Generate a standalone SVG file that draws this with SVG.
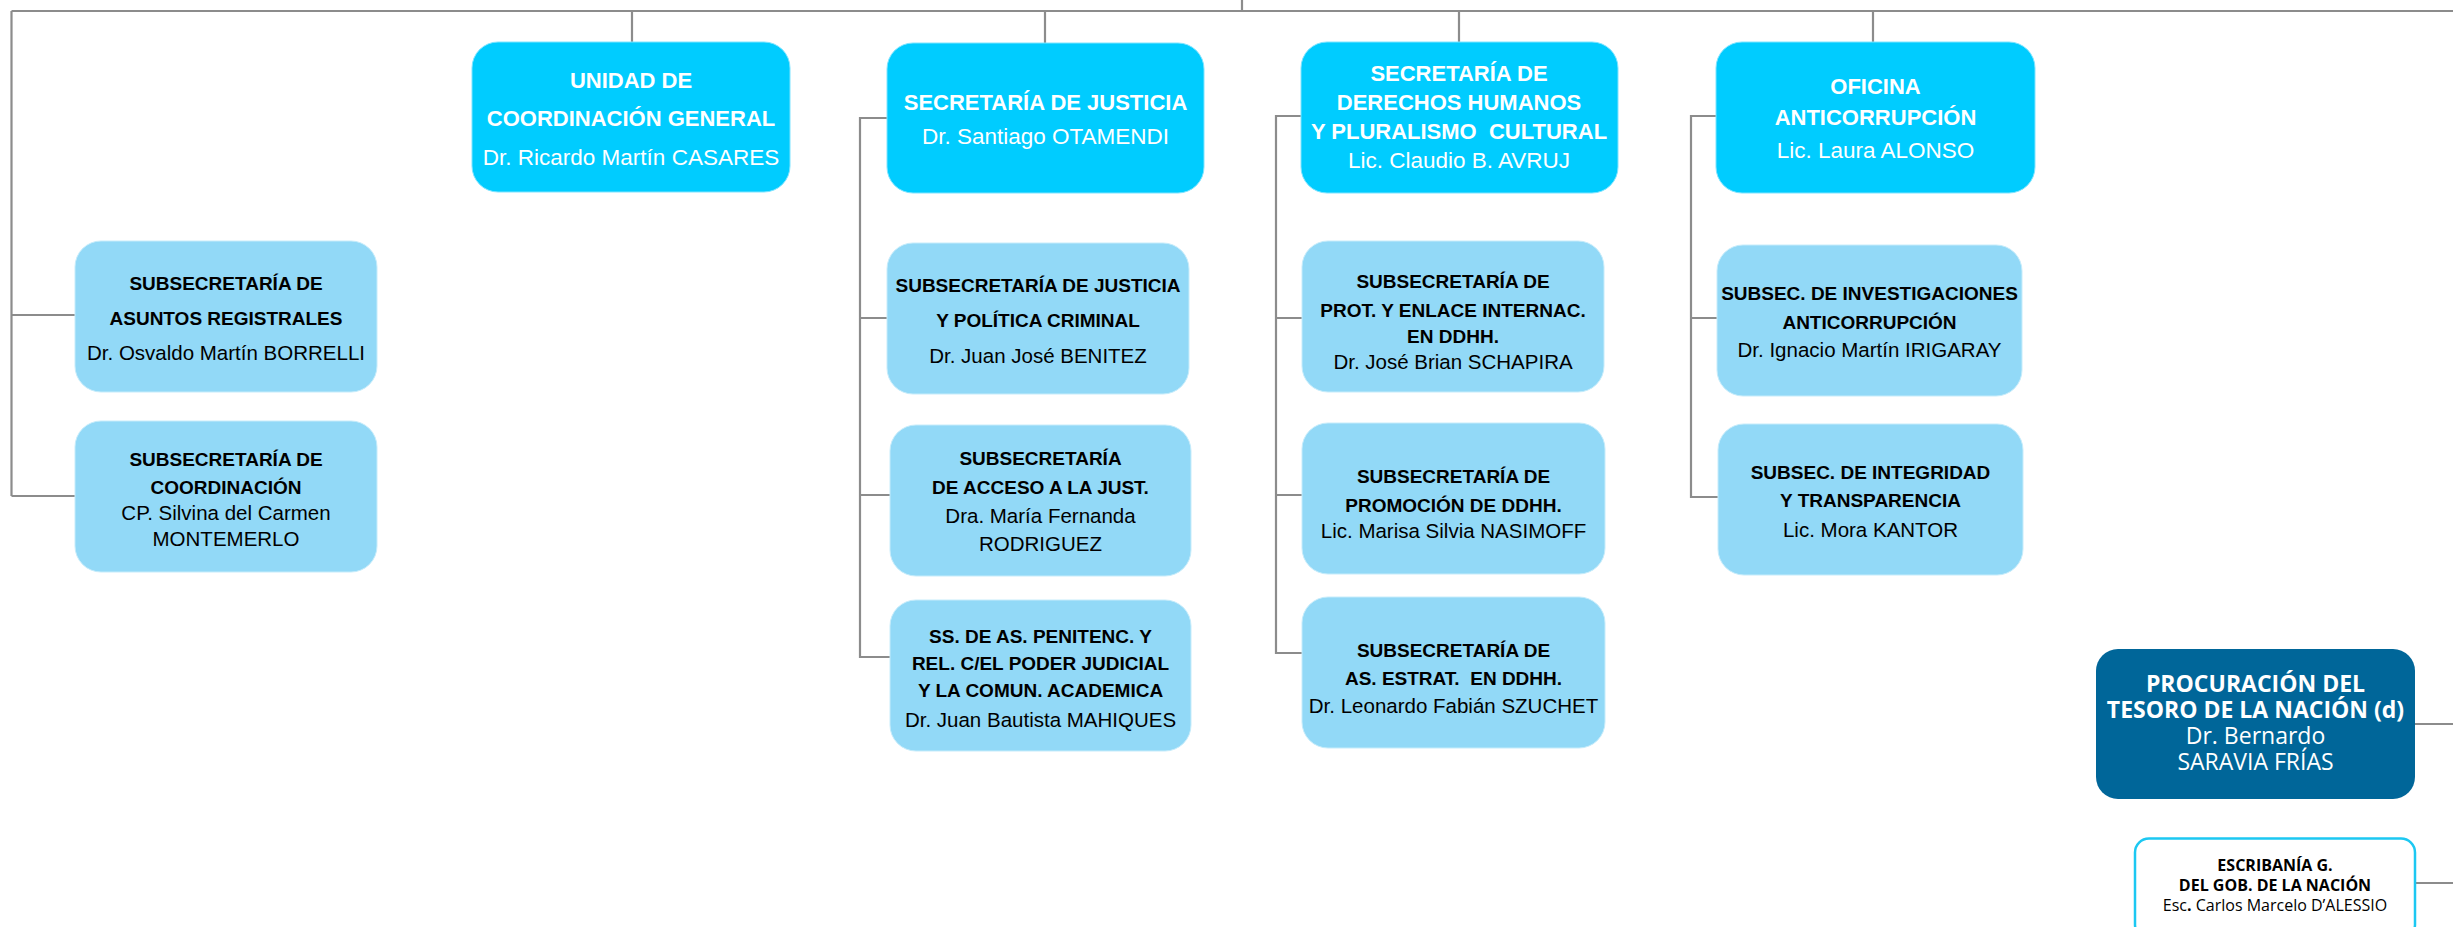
<svg xmlns="http://www.w3.org/2000/svg" width="2453" height="927" viewBox="0 0 2453 927">
<style>
.ln{stroke:#8c8c8c;stroke-width:2.2;fill:none}
.b1{fill:#00CCFF;stroke:#7fe4ff;stroke-width:1}
.b2{fill:#92D9F7;stroke:#c6ecfb;stroke-width:1}
.b3{fill:#006699}
.b4{fill:#ffffff;stroke:#1CC8F2;stroke-width:2.5}
text{font-family:"Liberation Sans",Arial,sans-serif;text-anchor:middle}
.wb{fill:#ffffff;font-weight:bold;font-size:22px}
.wr{fill:#ffffff;font-size:22.5px}
.kb{fill:#000000;font-weight:bold;font-size:19px}
.kr{fill:#000000;font-size:20.5px}
.ob{font-family:"Open Sans","Liberation Sans",sans-serif;fill:#ffffff;font-weight:bold;font-size:23px}
.or{font-family:"Open Sans","Liberation Sans",sans-serif;fill:#ffffff;font-size:23px}
.eb{font-family:"Open Sans","Liberation Sans",sans-serif;fill:#000000;font-weight:bold;font-size:16px}
.er{font-family:"Open Sans","Liberation Sans",sans-serif;fill:#000000;font-size:16px}
</style>
<rect width="2453" height="927" fill="#ffffff"/>
<g id="connectors">
<path class="ln" d="M1242 0V11M11.5 11H2453M632 11V42M1045 11V43M1459 11V42M1873 11V42"/>
<path class="ln" d="M11.5 11V496M11.5 315H75M11.5 496H75"/>
<path class="ln" d="M887 118H860V657H890M860 318H887M860 495H890"/>
<path class="ln" d="M1301 116H1276V653H1302M1276 318H1302M1276 495H1302"/>
<path class="ln" d="M1716 116H1691V497H1718M1691 318H1717"/>
<path class="ln" d="M2415 724H2453M2415 883H2453"/>
</g>
<g id="unidad">
<rect class="b1" x="472" y="42" width="318" height="150" rx="26"/>
<text class="wb" x="631" y="88">UNIDAD DE</text>
<text class="wb" x="631" y="126">COORDINACIÓN GENERAL</text>
<text class="wr" x="631" y="165">Dr. Ricardo Martín CASARES</text>
</g>
<g id="sec-justicia">
<rect class="b1" x="887" y="43" width="317" height="150" rx="26"/>
<text class="wb" x="1045.5" y="110">SECRETARÍA DE JUSTICIA</text>
<text class="wr" x="1045.5" y="144">Dr. Santiago OTAMENDI</text>
</g>
<g id="sec-ddhh">
<rect class="b1" x="1301" y="42" width="317" height="151" rx="26"/>
<text class="wb" x="1459" y="81">SECRETARÍA DE</text>
<text class="wb" x="1459" y="110">DERECHOS HUMANOS</text>
<text class="wb" x="1459" y="139" xml:space="preserve">Y PLURALISMO  CULTURAL</text>
<text class="wr" x="1459" y="168">Lic. Claudio B. AVRUJ</text>
</g>
<g id="oficina-anticorrupcion">
<rect class="b1" x="1716" y="42" width="319" height="151" rx="26"/>
<text class="wb" x="1875.5" y="94">OFICINA</text>
<text class="wb" x="1875.5" y="125">ANTICORRUPCIÓN</text>
<text class="wr" x="1875.5" y="158">Lic. Laura ALONSO</text>
</g>
<g id="ss-asuntos-registrales">
<rect class="b2" x="75" y="241" width="302" height="151" rx="26"/>
<text class="kb" x="226" y="290">SUBSECRETARÍA DE</text>
<text class="kb" x="226" y="325">ASUNTOS REGISTRALES</text>
<text class="kr" x="226" y="360">Dr. Osvaldo Martín BORRELLI</text>
</g>
<g id="ss-coordinacion">
<rect class="b2" x="75" y="421" width="302" height="151" rx="26"/>
<text class="kb" x="226" y="466">SUBSECRETARÍA DE</text>
<text class="kb" x="226" y="494">COORDINACIÓN</text>
<text class="kr" x="226" y="520">CP. Silvina del Carmen</text>
<text class="kr" x="226" y="546">MONTEMERLO</text>
</g>
<g id="ss-justicia-politica-criminal">
<rect class="b2" x="887" y="243" width="302" height="151" rx="26"/>
<text class="kb" x="1038" y="292">SUBSECRETARÍA DE JUSTICIA</text>
<text class="kb" x="1038" y="327">Y POLÍTICA CRIMINAL</text>
<text class="kr" x="1038" y="363">Dr. Juan José BENITEZ</text>
</g>
<g id="ss-acceso-justicia">
<rect class="b2" x="890" y="425" width="301" height="151" rx="26"/>
<text class="kb" x="1040.5" y="465">SUBSECRETARÍA</text>
<text class="kb" x="1040.5" y="494">DE ACCESO A LA JUST.</text>
<text class="kr" x="1040.5" y="523">Dra. María Fernanda</text>
<text class="kr" x="1040.5" y="551">RODRIGUEZ</text>
</g>
<g id="ss-penitenciarios">
<rect class="b2" x="890" y="600" width="301" height="151" rx="26"/>
<text class="kb" x="1040.5" y="643">SS. DE AS. PENITENC. Y</text>
<text class="kb" x="1040.5" y="670">REL. C/EL PODER JUDICIAL</text>
<text class="kb" x="1040.5" y="697">Y LA COMUN. ACADEMICA</text>
<text class="kr" x="1040.5" y="727">Dr. Juan Bautista MAHIQUES</text>
</g>
<g id="ss-proteccion-enlace">
<rect class="b2" x="1302" y="241" width="302" height="151" rx="26"/>
<text class="kb" x="1453" y="288">SUBSECRETARÍA DE</text>
<text class="kb" x="1453" y="317">PROT. Y ENLACE INTERNAC.</text>
<text class="kb" x="1453" y="343">EN DDHH.</text>
<text class="kr" x="1453" y="369">Dr. José Brian SCHAPIRA</text>
</g>
<g id="ss-promocion-ddhh">
<rect class="b2" x="1302" y="423" width="303" height="151" rx="26"/>
<text class="kb" x="1453.5" y="483">SUBSECRETARÍA DE</text>
<text class="kb" x="1453.5" y="512">PROMOCIÓN DE DDHH.</text>
<text class="kr" x="1453.5" y="538">Lic. Marisa Silvia NASIMOFF</text>
</g>
<g id="ss-asuntos-estrategicos">
<rect class="b2" x="1302" y="597" width="303" height="151" rx="26"/>
<text class="kb" x="1453.5" y="657">SUBSECRETARÍA DE</text>
<text class="kb" x="1453.5" y="685" xml:space="preserve">AS. ESTRAT.  EN DDHH.</text>
<text class="kr" x="1453.5" y="713">Dr. Leonardo Fabián SZUCHET</text>
</g>
<g id="ss-investigaciones">
<rect class="b2" x="1717" y="245" width="305" height="151" rx="26"/>
<text class="kb" x="1869.5" y="300">SUBSEC. DE INVESTIGACIONES</text>
<text class="kb" x="1869.5" y="329">ANTICORRUPCIÓN</text>
<text class="kr" x="1869.5" y="357">Dr. Ignacio Martín IRIGARAY</text>
</g>
<g id="ss-integridad">
<rect class="b2" x="1718" y="424" width="305" height="151" rx="26"/>
<text class="kb" x="1870.5" y="479">SUBSEC. DE INTEGRIDAD</text>
<text class="kb" x="1870.5" y="507">Y TRANSPARENCIA</text>
<text class="kr" x="1870.5" y="537">Lic. Mora KANTOR</text>
</g>
<g id="procuracion">
<rect class="b3" x="2096" y="649" width="319" height="150" rx="22"/>
<text class="ob" x="2255.5" y="692">PROCURACIÓN DEL</text>
<text class="ob" x="2255.5" y="718">TESORO DE LA NACIÓN (d)</text>
<text class="or" x="2255.5" y="744">Dr. Bernardo</text>
<text class="or" x="2255.5" y="770">SARAVIA FRÍAS</text>
</g>
<g id="escribania">
<rect class="b4" x="2135" y="838.5" width="280" height="100" rx="14"/>
<text class="eb" x="2275" y="871">ESCRIBANÍA G.</text>
<text class="eb" x="2275" y="891">DEL GOB. DE LA NACIÓN</text>
<text class="er" x="2275" y="911">Esc<tspan font-weight="bold">.</tspan> Carlos Marcelo D’ALESSIO</text>
</g>
</svg>
